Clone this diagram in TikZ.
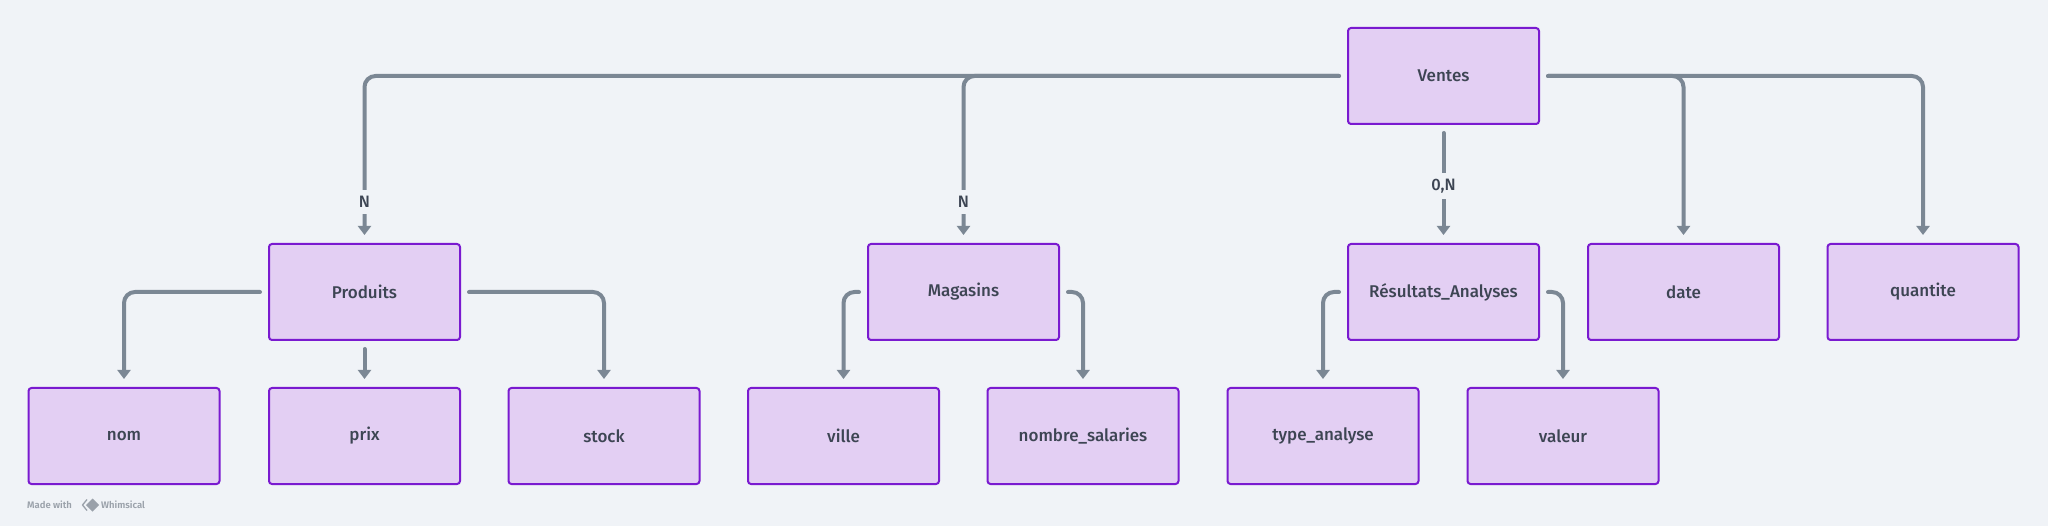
\documentclass[tikz,border=0pt]{standalone}
\usepackage{fontspec}
\setmainfont{Fira Sans}[UprightFont=* Medium,BoldFont=* SemiBold]
\usetikzlibrary{arrows.meta,calc}
\definecolor{bgc}{HTML}{F0F3F7}
\definecolor{boxfill}{HTML}{E3CFF3}
\definecolor{boxdraw}{HTML}{7A1AD0}
\definecolor{linec}{HTML}{7B8794}
\definecolor{txtc}{HTML}{3D4553}
\definecolor{wmc}{HTML}{9AA1AA}
\begin{document}
\begin{tikzpicture}[x=1pt,y=-1pt,
  entity/.style={rectangle,draw=boxdraw,fill=boxfill,line width=2pt,rounded corners=3pt,
    minimum width=191pt,minimum height=96pt,inner sep=0pt,text=txtc,font=\fontsize{17}{19}\selectfont},
  conn/.style={draw=linec,line width=4pt,line cap=round,rounded corners=11pt,
    -{Triangle[width=13pt,length=9pt]}},
  lbl/.style={fill=bgc,text=txtc,inner xsep=3pt,inner ysep=6pt,font=\fontsize{16.5}{18}\selectfont},
  wm/.style={text=wmc,inner sep=0pt,font=\fontsize{9.5}{11}\bfseries\selectfont}]
\useasboundingbox[fill=bgc] (0,0) rectangle (2048,526);
% entities
\node[entity] (V) at (1443.5,76) {Ventes};
\node[entity] (P) at (364.5,292) {Produits};
\node[entity] (M) at (963.5,292) {Magasins};
\node[entity] (R) at (1443.5,292) {Résultats\_Analyses};
\node[entity] (D) at (1683.5,292) {date};
\node[entity] (Q) at (1923,292) {quantite};
\node[entity] (nom) at (124,436) {nom};
\node[entity] (prix) at (364.5,436) {prix};
\node[entity] (stock) at (604,436) {stock};
\node[entity] (ville) at (843.5,436) {ville};
\node[entity] (nb) at (1083,436) {nombre\_salaries};
\node[entity] (ty) at (1323,436) {type\_analyse};
\node[entity] (val) at (1563,436) {valeur};
% connectors
\draw[conn] ([xshift=-8pt]V.west) -| ([yshift=8pt]P.north);
\draw[conn] ([xshift=-8pt]V.west) -| ([yshift=8pt]M.north);
\draw[conn] ([yshift=-8pt]V.south) -- ([yshift=8pt]R.north);
\draw[conn] ([xshift=8pt]V.east) -| ([yshift=8pt]D.north);
\draw[conn] ([xshift=8pt]V.east) -| ([yshift=8pt]Q.north);
\draw[conn] ([xshift=-8pt]P.west) -| ([yshift=8pt]nom.north);
\draw[conn] ([yshift=-8pt]P.south) -- ([yshift=8pt]prix.north);
\draw[conn] ([xshift=8pt]P.east) -| ([yshift=8pt]stock.north);
\draw[conn] ([xshift=-8pt]M.west) -| ([yshift=8pt]ville.north);
\draw[conn] ([xshift=8pt]M.east) -| ([yshift=8pt]nb.north);
\draw[conn] ([xshift=-8pt]R.west) -| ([yshift=8pt]ty.north);
\draw[conn] ([xshift=8pt]R.east) -| ([yshift=8pt]val.north);
% labels
\node[lbl] (l1) at (364.5,202) {N};
\node[lbl] (l2) at (963.5,202) {N};
\node[lbl] (l3) at (1443.5,186) {0,N};
% watermark
\node[wm,anchor=west] (wm1) at (27,505) {Made with};
\draw[wmc,line width=1.3pt,line join=round] (87,499.5) -- (82.5,505) -- (87,510.5);
\fill[wmc] (92.5,498.5) -- (99,505) -- (92.5,511.5) -- (86,505) -- cycle;
\node[wm,anchor=west] (wm2) at (101,505) {Whimsical};
\end{tikzpicture}
\end{document}
